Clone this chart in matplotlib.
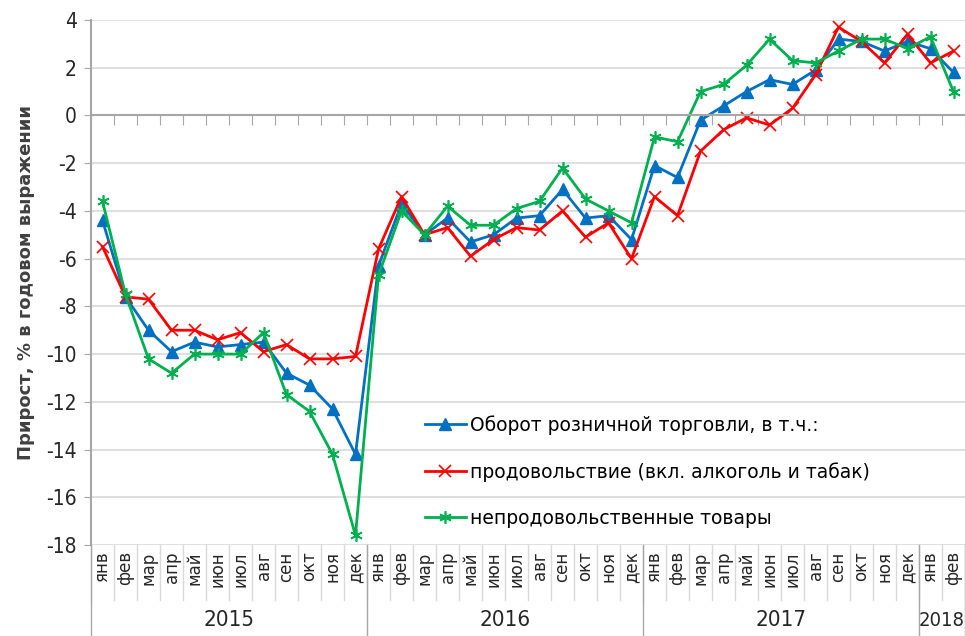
import numpy as np
import matplotlib
matplotlib.use('Agg')
from matplotlib import pyplot as plt
from matplotlib import transforms

months = ['янв', 'фев', 'мар', 'апр', 'май', 'июн', 'июл', 'авг', 'сен', 'окт', 'ноя', 'дек']
years = ['2015', '2016', '2017', '2018']
year_len = [12, 12, 12, 2]

retail = [-4.4, -7.6, -9.0, -9.9, -9.5, -9.7, -9.6, -9.5, -10.8, -11.3, -12.3, -14.2,
          -6.3, -3.7, -5.0, -4.3, -5.3, -5.0, -4.3, -4.2, -3.1, -4.3, -4.2, -5.2,
          -2.1, -2.6, -0.2, 0.4, 1.0, 1.5, 1.3, 1.9, 3.2, 3.1, 2.7, 3.1,
          2.8, 1.8]
food = [-5.5, -7.6, -7.7, -9.0, -9.0, -9.4, -9.1, -9.9, -9.6, -10.2, -10.2, -10.1,
        -5.6, -3.4, -5.0, -4.7, -5.9, -5.2, -4.7, -4.8, -4.0, -5.1, -4.5, -6.0,
        -3.4, -4.2, -1.5, -0.6, -0.1, -0.4, 0.3, 1.7, 3.7, 3.1, 2.2, 3.4,
        2.2, 2.7]
nonfood = [-3.6, -7.5, -10.2, -10.8, -10.0, -10.0, -10.0, -9.1, -11.7, -12.4, -14.2, -17.6,
           -6.7, -4.0, -5.0, -3.8, -4.6, -4.6, -3.9, -3.6, -2.2, -3.5, -4.0, -4.5,
           -0.9, -1.1, 1.0, 1.3, 2.1, 3.2, 2.3, 2.2, 2.7, 3.2, 3.2, 2.8,
           3.3, 1.0]

labels = []
for n in year_len:
    labels += months[:n]
x = np.arange(len(labels))

grid_c = '#d9d9d9'
axis_c = '#a6a6a6'
text_c = '#262626'

fig = plt.figure(figsize=(9.65, 6.36), dpi=100)
ax = fig.add_axes([91 / 965, 1 - 545 / 636, 874 / 965, 525 / 636])

ax.plot(x, retail, color='#0070C0', lw=2, marker='^', ms=8,
        label='Оборот розничной торговли, в т.ч.:')
ax.plot(x, food, color='#FF0000', lw=2, marker='x', ms=8, mew=1.2,
        label='продовольствие (вкл. алкоголь и табак)')
ax.plot(x, nonfood, color='#00B050', lw=2, marker=(6, 2, 0), ms=9, mew=1.2,
        label='непродовольственные товары')

ax.set_xlim(-0.5, len(labels) - 0.5)
ax.set_ylim(-18, 4)
ax.set_yticks(np.arange(-18, 5, 2))
ax.set_yticklabels([str(v) for v in range(-18, 5, 2)], fontsize=15,
                   fontstretch='condensed', color=text_c)
ax.yaxis.grid(True, color=grid_c, lw=1.2)
ax.set_axisbelow(True)

for s in ['top', 'right']:
    ax.spines[s].set_visible(False)
ax.spines['left'].set_color(axis_c)
ax.spines['left'].set_linewidth(1.5)
ax.spines['bottom'].set_position(('data', 0))
ax.spines['bottom'].set_color(axis_c)
ax.spines['bottom'].set_linewidth(1.5)
ax.tick_params(axis='y', length=5, color=axis_c, pad=5)
ax.set_xticks(np.arange(-0.5, len(labels), 1))
ax.tick_params(axis='x', length=7, color=axis_c, labelbottom=False)

# category labels below the plot
tr = transforms.blended_transform_factory(ax.transData, ax.transAxes)
for i, lab in enumerate(labels):
    ax.text(i, -0.012, lab, transform=tr, rotation=90, ha='center', va='top',
            fontsize=12, color=text_c)
for b in np.arange(-0.5, len(labels), 1):
    ax.plot([b, b], [0, -0.105], transform=tr, color=grid_c, lw=1, clip_on=False)
start = 0
for yr, n in zip(years, year_len):
    ax.plot([start - 0.5, start - 0.5], [0, -0.175], transform=tr, color=axis_c, lw=1, clip_on=False)
    ax.text(start + n / 2 - 0.5, -0.143, yr, transform=tr, ha='center', va='center',
            fontsize=14.5 if n < 3 else 16, fontstretch='condensed', color=text_c)
    start += n
ax.plot([start - 0.5, start - 0.5], [0, -0.175], transform=tr, color=axis_c, lw=1, clip_on=False)

ax.set_ylabel('Прирост, % в годовом выражении', fontsize=13, fontweight='bold',
              color='#404040', labelpad=8)

ax.legend(loc='upper left', bbox_to_anchor=(0.373, 0.262), frameon=False, fontsize=13.5,
          labelspacing=1.45, handlelength=2.2, handletextpad=0.25, borderaxespad=0)

fig.savefig('out.png', dpi=100)
